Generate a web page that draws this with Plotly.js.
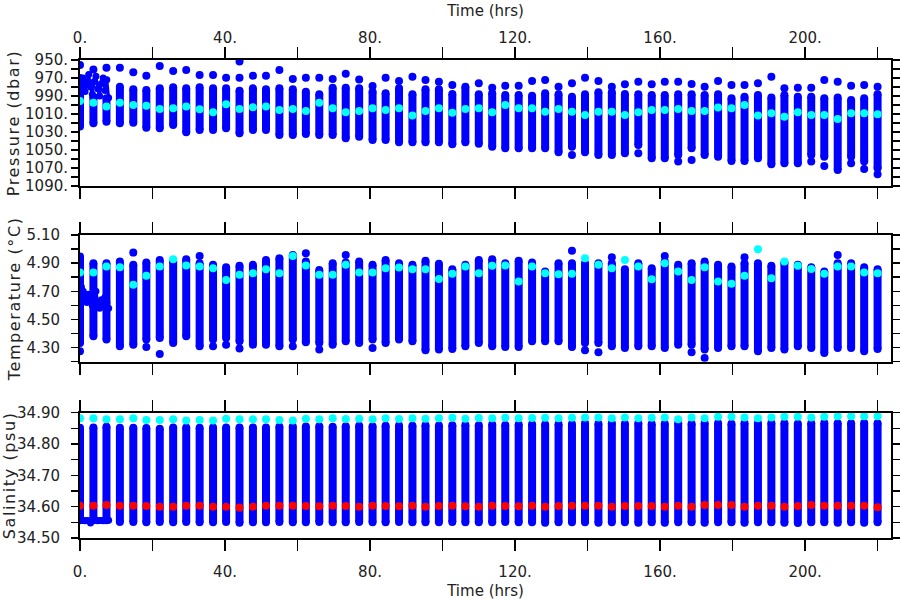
<!DOCTYPE html>
<html>
<head>
<meta charset="utf-8">
<script src="https://cdn.plot.ly/plotly-3.0.1.min.js"></script>
<style>html,body{margin:0;padding:0;background:#fff}#chart{width:900px;height:600px}
.g-ytitle text,.g-y2title text,.g-y3title text{letter-spacing:1.6px}</style>
</head>
<body>
<div id="chart"></div>
<script>
// ---- Profile times (hrs) ----
const times = [0, 3.7, 7.3, 11.0, 14.7, 18.3, 22.0, 25.7, 29.3, 33.0, 36.7, 40.3, 44.0, 47.7, 51.3, 55.0,
  58.7, 62.3, 66.0, 69.7, 73.3, 77.0, 80.7, 84.3, 88.0, 91.7, 95.3, 99.0, 102.7, 106.3, 110.0, 113.7,
  117.3, 121.0, 124.7, 128.3, 132.0, 135.7, 139.3, 143.0, 146.7, 150.3, 154.0, 157.7, 161.3, 165.0,
  168.7, 172.3, 176.0, 179.7, 183.3, 187.0, 190.7, 194.3, 198.0, 201.7, 205.3, 209.0, 212.7, 216.3, 220.0];

// ---- Pressure (dbar) ----
const presTop = [955.6, 960.5, 958.5, 958.5, 963.7, 967.4, 956.7, 962.2, 961.1, 966.7, 966.7, 969.6, 969.6, 967.4, 967.4, 961.1,
  971.1, 969.6, 969.6, 971.1, 965.2, 971.8, 978.9, 969.6, 973.3, 968.5, 972.2, 974.1, 977.8, null, 975.9, 980.7,
  978.5, 978.5, 973.3, 972.2, 979.6, 975.9, 969.6, 973.3, 979.6, 977.0, 974.1, 977.0, 974.1, 974.1,
  976.7, 979.6, 973.3, 977.8, 977.8, 975.9, 968.5, 981.5, 980.7, 980.7, 972.2, 974.1, 978.5, 977.8, 979.6];
const presTop2 = [null, null, null, null, null, null, null, null, null, null, null, null, 951.8, null, null, null,
  null, null, null, null, null, null, null, null, null, null, null, null, null, null, null, null,
  null, null, null, null, null, null, null, null, null, null, null, null, null, null,
  null, null, null, null, null, null, null, null, null, null, null, null, null, null, null];
const presColTop = [970.0, 990.7, 992.6, 979.6, 982.6, 983.3, 981.5, 980.4, 981.5, 980.4, 981.5, 981.5, 984.1, 981.5, 982.6, 981.5,
  982.6, 985.2, 988.1, 980.7, 980.7, 981.5, 985.2, 987.0, 981.5, 988.1, 982.6, 982.6, 987.8, 979.6, 988.0, 987.0,
  988.9, 988.9, 989.6, 987.0, 988.1, 990.7, 988.1, 985.9, 985.9, 987.8, 988.1, 988.9, 988.9, 988.1,
  988.1, 988.9, 988.1, 992.6, 990.7, 988.9, 991.8, 988.9, 990.7, 990.7, 992.6, 991.8, 994.4, 992.6, 988.1];
const presColBot = [1024.0, 1020.4, 1018.5, 1020.4, 1019.6, 1025.2, 1025.9, 1022.2, 1030.4, 1027.8, 1027.8, 1025.9, 1031.5, 1027.8, 1027.8, 1033.3,
  1033.3, 1032.2, 1033.3, 1033.3, 1037.0, 1035.2, 1038.9, 1038.9, 1041.5, 1041.5, 1041.5, 1041.5, 1043.7, 1041.5, 1043.0, 1046.3,
  1048.1, 1048.1, 1048.1, 1048.1, 1052.6, 1046.3, 1052.6, 1055.5, 1055.5, 1053.7, 1044.4, 1059.3, 1059.3, 1055.5,
  1048.1, 1055.5, 1057.4, 1062.2, 1062.2, 1059.3, 1065.9, 1064.8, 1064.8, 1055.5, 1057.4, 1072.2, 1057.4, 1062.9, 1070.4];
const presBotExtra = [null, null, null, null, null, null, null, null, null, null, null, null, null, null, null, null,
  null, null, null, null, null, null, null, null, null, null, null, null, null, null, null, null,
  null, null, null, null, null, 1055.5, null, null, null, null, 1053.7, null, null, 1062.9,
  1061.1, null, null, null, null, null, null, null, null, 1062.9, 1067.8, null, 1064.8, 1071.1, 1077.0];
const presMean = [995.6, 997.4, 1001.8, 997.4, 1000.0, 1000.7, 1004.4, 1003.7, 1001.8, 1004.8, 1008.1, 999.3, 1004.4, 1002.6, 1001.8, 1005.6,
  1004.4, 1006.7, 997.4, 1003.7, 1008.1, 1006.7, 1003.7, 1005.6, 1003.7, 1011.8, 1006.7, 1003.7, 1008.5, 1004.4, 1003.7, 1008.1,
  1000.0, 1003.7, 1003.7, 1007.4, 1004.4, 1007.4, 1011.1, 1007.4, 1007.4, 1011.1, 1008.1, 1005.6, 1005.6, 1004.4,
  1006.7, 1006.7, 1002.9, 1003.7, 1000.0, 1011.8, 1009.3, 1013.0, 1008.1, 1011.1, 1011.1, 1015.6, 1009.3, 1009.3, 1010.4];

// ---- Temperature (deg C) ----
const tempColTop = [4.947, 4.900, 4.900, 4.911, 4.888, 4.904, 4.923, 4.911, 4.928, 4.900, 4.888, 4.871, 4.881, 4.888, 4.923, 4.935,
  4.958, 4.911, 4.852, 4.900, 4.904, 4.911, 4.888, 4.923, 4.900, 4.888, 4.918, 4.895, 4.857, 4.888, 4.923, 4.928,
  4.900, 4.918, 4.904, 4.840, 4.900, 4.900, 4.900, 4.900, 4.900, 4.857, 4.900, 4.864, 4.911, 4.888,
  4.900, 4.911, 4.888, 4.876, 4.900, 4.900, 4.881, 4.904, 4.888, 4.871, 4.840, 4.900, 4.900, 4.871, 4.857];
const tempColBot = [4.333, 4.380, 4.357, 4.309, 4.321, 4.357, 4.368, 4.333, 4.380, 4.309, 4.357, 4.368, 4.345, 4.321, 4.321, 4.309,
  4.357, 4.338, 4.333, 4.321, 4.345, 4.333, 4.357, 4.333, 4.357, 4.345, 4.281, 4.286, 4.291, 4.309, 4.333, 4.309,
  4.305, 4.305, 4.345, 4.345, 4.345, 4.305, 4.333, 4.333, 4.309, 4.298, 4.309, 4.309, 4.298, 4.321,
  4.321, 4.286, 4.298, 4.309, 4.309, 4.274, 4.298, 4.286, 4.309, 4.298, 4.262, 4.298, 4.298, 4.274, 4.291];
const tempTopExtra = [null, null, null, null, 4.975, null, null, null, null, 4.951, null, null, null, null, null, null,
  null, 4.970, null, null, 4.958, null, null, null, null, null, null, null, null, null, null, null,
  null, null, null, null, null, 4.989, null, null, 4.942, null, null, null, 4.951, null,
  null, null, null, null, 4.942, null, null, null, null, null, null, 4.958, null, null, null];
const tempBotExtra = [4.274, null, null, null, null, 4.305, 4.255, null, null, null, 4.309, 4.321, 4.293, null, null, null,
  4.309, null, 4.286, null, null, null, 4.298, null, null, null, null, null, null, null, null, null,
  null, null, null, null, null, null, 4.281, 4.267, null, null, null, null, null, null,
  4.267, 4.227, null, null, null, null, null, null, null, null, null, null, null, null, null];
const tempMean = [4.833, 4.833, 4.876, 4.871, 4.746, 4.810, 4.876, 4.928, 4.883, 4.876, 4.864, 4.781, 4.817, 4.829, 4.857, 4.829,
  4.951, 4.883, 4.817, 4.817, 4.888, 4.833, 4.833, 4.864, 4.869, 4.857, 4.857, 4.788, 4.824, 4.876, 4.829, 4.881,
  4.883, 4.770, 4.876, 4.829, 4.822, 4.824, 4.935, 4.888, 4.864, 4.923, 4.876, 4.786, 4.900, 4.840,
  4.781, 4.871, 4.770, 4.753, 4.810, 4.999, 4.793, 4.911, 4.881, 4.859, 4.824, 4.876, 4.876, 4.833, 4.829];

// ---- Salinity (psu) ----
const salColTop = [34.852, 34.853, 34.855, 34.852, 34.852, 34.851, 34.849, 34.853, 34.853, 34.852, 34.853, 34.853, 34.853, 34.853, 34.853, 34.855,
  34.856, 34.856, 34.857, 34.855, 34.857, 34.858, 34.857, 34.858, 34.859, 34.858, 34.860, 34.859, 34.860, 34.861, 34.860, 34.862,
  34.861, 34.862, 34.863, 34.862, 34.863, 34.864, 34.866, 34.865, 34.866, 34.865, 34.866, 34.864, 34.865, 34.866,
  34.865, 34.866, 34.866, 34.865, 34.866, 34.866, 34.867, 34.866, 34.865, 34.866, 34.867, 34.866, 34.866, 34.867, 34.866];
const salColBot = [34.557, 34.557, 34.557, 34.551, 34.551, 34.550, 34.551, 34.550, 34.551, 34.550, 34.550, 34.551, 34.549, 34.550, 34.550, 34.551,
  34.550, 34.550, 34.551, 34.550, 34.550, 34.551, 34.550, 34.550, 34.551, 34.550, 34.550, 34.550, 34.551, 34.550, 34.550, 34.550,
  34.551, 34.550, 34.550, 34.549, 34.550, 34.550, 34.550, 34.549, 34.550, 34.550, 34.549, 34.550, 34.549, 34.550,
  34.550, 34.549, 34.550, 34.550, 34.549, 34.550, 34.550, 34.549, 34.548, 34.550, 34.550, 34.549, 34.550, 34.549, 34.550];
const salMax = [34.882, 34.882, 34.879, 34.879, 34.882, 34.877, 34.877, 34.879, 34.875, 34.877, 34.875, 34.881, 34.879, 34.879, 34.879, 34.877,
  34.875, 34.881, 34.879, 34.882, 34.880, 34.881, 34.879, 34.882, 34.880, 34.882, 34.881, 34.882, 34.884, 34.881, 34.883, 34.882,
  34.884, 34.882, 34.883, 34.884, 34.882, 34.884, 34.885, 34.885, 34.882, 34.885, 34.882, 34.884, 34.885, 34.879,
  34.885, 34.882, 34.887, 34.887, 34.885, 34.882, 34.885, 34.887, 34.887, 34.885, 34.887, 34.889, 34.889, 34.889, 34.889];
const salMid = [34.603, 34.603, 34.605, 34.603, 34.603, 34.602, 34.600, 34.600, 34.603, 34.603, 34.600, 34.600, 34.597, 34.600, 34.603, 34.603,
  34.603, 34.602, 34.601, 34.603, 34.602, 34.600, 34.603, 34.602, 34.601, 34.603, 34.600, 34.602, 34.603, 34.601, 34.600, 34.603,
  34.602, 34.601, 34.603, 34.600, 34.602, 34.603, 34.603, 34.603, 34.600, 34.602, 34.602, 34.602, 34.600, 34.603,
  34.600, 34.605, 34.605, 34.605, 34.600, 34.603, 34.603, 34.600, 34.602, 34.605, 34.603, 34.603, 34.603, 34.603, 34.598];

// ---- Initial descent (first ~8 hrs) ----
const descTime = [0.4, 0.9, 1.4, 1.9, 2.4, 2.9, 3.4, 3.9, 4.4, 4.9, 5.4, 5.9, 6.4, 6.9, 7.4, 7.9];
const descPres = [978, 970, 985, 975, 966, 980, 988, 974, 968, 982, 990, 976, 970, 984, 972, 992];
const descTemp = [4.73, 4.70, 4.66, 4.62, 4.68, 4.64, 4.60, 4.66, 4.70, 4.62, 4.58, 4.64, 4.60, 4.66, 4.62, 4.58];
const descSal = [34.556, 34.556, 34.555, 34.556, 34.555, 34.548, 34.555, 34.556, 34.556, 34.555, 34.556, 34.556, 34.555, 34.556, 34.556, 34.557];

// ---- Axis ticks ----
const timeTicks = [0, 20, 40, 60, 80, 100, 120, 140, 160, 180, 200, 220];
const timeLabels = ['0.', '', '40.', '', '80.', '', '120.', '', '160.', '', '200.', ''];
const presTicks = [950, 960, 970, 980, 990, 1000, 1010, 1020, 1030, 1040, 1050, 1060, 1070, 1080, 1090];
const presLabels = ['950.', '', '970.', '', '990.', '', '1010.', '', '1030.', '', '1050.', '', '1070.', '', '1090.'];
const tempTicks = [4.2, 4.3, 4.4, 4.5, 4.6, 4.7, 4.8, 4.9, 5.0, 5.1];
const tempLabels = ['', '4.30', '', '4.50', '', '4.70', '', '4.90', '', '5.10'];
const salTicks = [34.50, 34.55, 34.60, 34.65, 34.70, 34.75, 34.80, 34.85, 34.90];
const salLabels = ['34.50', '', '34.60', '', '34.70', '', '34.80', '', '34.90'];

const BLUE = '#0000ff', CYAN = '#00ffff', RED = '#ff0000';
const DOT = 8;

function bars(lo, hi, xa, ya) {
  const x = [], y = [];
  times.forEach((t, i) => { if (lo[i] == null || hi[i] == null) return; x.push(t, t, null); y.push(lo[i], hi[i], null); });
  return {type: 'scatter', mode: 'lines', x: x, y: y, xaxis: xa, yaxis: ya,
    line: {color: BLUE, width: DOT}, hoverinfo: 'skip', showlegend: false, connectgaps: false};
}
function dots(xs, vals, color, xa, ya) {
  return {type: 'scatter', mode: 'markers', x: xs, y: vals, xaxis: xa, yaxis: ya,
    marker: {color: color, size: DOT, line: {width: 0}}, hoverinfo: 'skip', showlegend: false};
}
function descent(vals, xa, ya) {
  return {type: 'scatter', mode: 'lines+markers', x: descTime, y: vals, xaxis: xa, yaxis: ya,
    line: {color: BLUE, width: 3}, marker: {color: BLUE, size: 7}, hoverinfo: 'skip', showlegend: false};
}

const traces = [
  // pressure
  bars(presColTop, presColBot, 'x', 'y'),
  dots(times, presColTop, BLUE, 'x', 'y'),
  dots(times, presColBot, BLUE, 'x', 'y'),
  dots(times, presTop, BLUE, 'x', 'y'),
  dots(times, presTop2, BLUE, 'x', 'y'),
  dots(times, presBotExtra, BLUE, 'x', 'y'),
  descent(descPres, 'x', 'y'),
  dots(times, presMean, CYAN, 'x', 'y'),
  // temperature
  bars(tempColBot, tempColTop, 'x2', 'y2'),
  dots(times, tempColTop, BLUE, 'x2', 'y2'),
  dots(times, tempColBot, BLUE, 'x2', 'y2'),
  dots(times, tempTopExtra, BLUE, 'x2', 'y2'),
  dots(times, tempBotExtra, BLUE, 'x2', 'y2'),
  descent(descTemp, 'x2', 'y2'),
  dots(times, tempMean, CYAN, 'x2', 'y2'),
  // salinity
  bars(salColBot, salColTop, 'x3', 'y3'),
  dots(times, salColTop, BLUE, 'x3', 'y3'),
  dots(times, salColBot, BLUE, 'x3', 'y3'),
  descent(descSal, 'x3', 'y3'),
  dots(times, salMax, CYAN, 'x3', 'y3'),
  dots(times, salMid, RED, 'x3', 'y3')
];

const FONT = {family: 'DejaVu Sans, sans-serif', size: 15, color: '#222'};
const YTFONT = {family: 'DejaVu Sans, sans-serif', size: 16, color: '#222'};
function xax(anchor, side, showLabels, title, lstand, tstand) {
  const a = {anchor: anchor, side: side, range: [0, 223.7], tickmode: 'array', tickvals: timeTicks, ticktext: timeLabels,
    ticks: 'outside', ticklen: 11, tickwidth: 1.5, tickcolor: '#000', showline: true, linewidth: 2, linecolor: '#000',
    mirror: 'ticks', showgrid: false, zeroline: false, showticklabels: showLabels, tickfont: FONT,
    ticklabelstandoff: lstand};
  if (title) a.title = {text: title, font: FONT, standoff: tstand};
  return a;
}
function yax(domain, range, vals, labels, title, anchor, standoff, tstand) {
  return {domain: domain, range: range, anchor: anchor, tickmode: 'array', tickvals: vals, ticktext: labels,
    ticks: 'outside', ticklen: 7, tickwidth: 1.5, tickcolor: '#000', showline: true, linewidth: 2, linecolor: '#000',
    mirror: 'ticks', showgrid: false, zeroline: false, tickfont: FONT, ticklabelstandoff: tstand,
    title: {text: title, font: YTFONT, standoff: standoff}};
}

const layout = {
  width: 900, height: 600,
  margin: {l: 80, r: 9, t: 60, b: 62},
  paper_bgcolor: '#fff', plot_bgcolor: '#fff',
  font: FONT,
  showlegend: false,
  xaxis: xax('y', 'top', true, 'Time (hrs)', -2, 9),
  xaxis2: xax('y2', 'bottom', false, null, 8, 6),
  xaxis3: xax('y3', 'bottom', true, 'Time (hrs)', 8, 5),
  yaxis: yax([0.7364, 1], [1090, 950], presTicks, presLabels, 'Pressure (dbar)', 'x', 1, 0),
  yaxis2: yax([0.3688, 0.6339], [4.2, 5.1], tempTicks, tempLabels, 'Temperature (°C)', 'x2', 2, 8),
  yaxis3: yax([0, 0.2621], [34.5, 34.9], salTicks, salLabels, 'Salinity (psu)', 'x3', 1, 8)
};

Plotly.newPlot('chart', traces, layout, {staticPlot: true, displayModeBar: false});
</script>
</body>
</html>
